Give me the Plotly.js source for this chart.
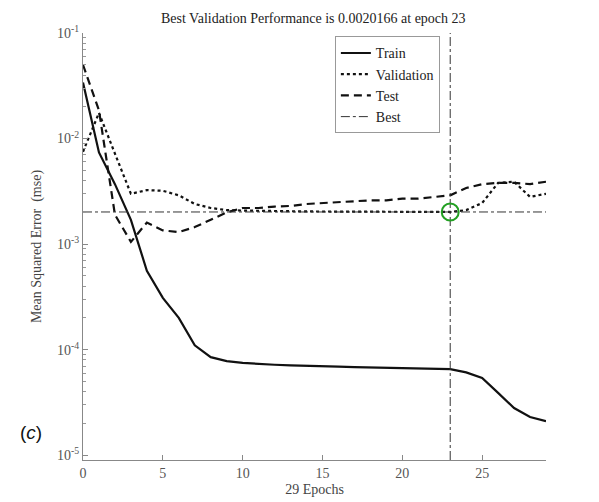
<!DOCTYPE html>
<html>
<head>
<meta charset="utf-8">
<script src="https://cdn.plot.ly/plotly-3.0.1.min.js"></script>
<style>html,body{margin:0;padding:0;background:#fff;}#chart{width:599px;height:502px;}</style>
</head>
<body>
<div id="chart"></div>
<script>
const epochs = [0,1,2,3,4,5,6,7,8,9,10,11,12,13,14,15,16,17,18,19,20,21,22,23,24,25,26,27,28,29];
const train = [0.034,0.0074,0.0037,0.0017,0.00056,0.00031,0.0002,0.00011,0.000085,0.000078,0.000075,0.000073,0.000072,0.000071,0.00007,0.0000695,0.000069,0.0000685,0.000068,0.0000675,0.000067,0.0000665,0.000066,0.0000655,0.000061,0.000054,0.000039,0.000028,0.000023,0.000021];
const validation = [0.0075,0.0175,0.0072,0.0030,0.00325,0.0032,0.0029,0.0024,0.0022,0.0021,0.00208,0.00206,0.00205,0.00205,0.00204,0.00204,0.00204,0.00203,0.00203,0.00203,0.00203,0.00202,0.00202,0.0020166,0.0021,0.00245,0.0038,0.0039,0.0028,0.0030];
const test = [0.050,0.0185,0.0019,0.00105,0.0016,0.00135,0.0013,0.00145,0.0017,0.0020,0.0022,0.0022,0.00227,0.0023,0.0024,0.00245,0.0025,0.00255,0.0026,0.0026,0.0027,0.0027,0.0028,0.0029,0.0034,0.0037,0.0038,0.0038,0.0037,0.0039];
const bestEpoch = 23;
const bestPerf = 0.0020166;
const yTickVals = [1e-5,1e-4,1e-3,1e-2,1e-1];
const yTickText = ['10<sup>-5</sup>','10<sup>-4</sup>','10<sup>-3</sup>','10<sup>-2</sup>','10<sup>-1</sup>'];
const xTickVals = [0,5,10,15,20,25];

const yLogRange = [-5.045, -1];
const yMin = Math.pow(10, yLogRange[0]), yMax = Math.pow(10, yLogRange[1]);
const serif = 'Liberation Serif, Times New Roman, serif';

const traces = [
  {x: epochs, y: train, name: 'Train', mode: 'lines', line: {color: '#111', width: 2.2, dash: 'solid'}},
  {x: epochs, y: validation, name: 'Validation', mode: 'lines', line: {color: '#111', width: 2.2, dash: 'dot'}},
  {x: epochs, y: test, name: 'Test', mode: 'lines', line: {color: '#111', width: 2.2, dash: '8px,5px'}},
  {x: [epochs[0], epochs[epochs.length-1], null, bestEpoch, bestEpoch], y: [bestPerf, bestPerf, null, yMin, yMax],
   name: 'Best', mode: 'lines', connectgaps: false, line: {color: '#333', width: 1, dash: 'dashdot'}},
  {x: [bestEpoch], y: [bestPerf], mode: 'markers', showlegend: false, hoverinfo: 'skip',
   marker: {symbol: 'circle-open', size: 17, color: '#22a022', line: {width: 2, color: '#22a022'}}}
];

const layout = {
  width: 599, height: 502,
  margin: {l: 83, r: 53, t: 33, b: 42},
  paper_bgcolor: '#fff', plot_bgcolor: '#fff',
  showlegend: true,
  title: {text: 'Best Validation Performance is 0.0020166 at epoch 23', font: {family: serif, size: 14, color: '#222'}, x: 0.523, xanchor: 'center', y: 0.963, yanchor: 'middle'},
  xaxis: {
    range: [0, 29], showgrid: false, zeroline: false, showline: true, linecolor: '#888', linewidth: 1,
    ticks: 'inside', ticklen: 5, tickcolor: '#888', tickmode: 'array', tickvals: xTickVals,
    tickfont: {family: serif, size: 14, color: '#555'}, mirror: false,
    title: {text: '29 Epochs', font: {family: serif, size: 14, color: '#444'}, standoff: 4}
  },
  yaxis: {
    type: 'log', range: yLogRange, showgrid: false, zeroline: false, showline: true, linecolor: '#888', linewidth: 1,
    ticks: 'inside', ticklen: 5, tickcolor: '#888', tickmode: 'array', tickvals: yTickVals, ticktext: yTickText,
    tickfont: {family: serif, size: 14, color: '#555'}, mirror: false,
    minor: {ticks: 'inside', ticklen: 3, tickcolor: '#999', dtick: 'D1', showgrid: false},
    title: {text: 'Mean Squared Error  (mse)', font: {family: serif, size: 14, color: '#444'}, standoff: 12}
  },
  legend: {
    x: 0.544, y: 0.992, xanchor: 'left', yanchor: 'top', bgcolor: '#fff', bordercolor: '#999', borderwidth: 1,
    font: {family: serif, size: 14, color: '#222'}, tracegroupgap: 0, itemwidth: 30
  },
  annotations: [
    {text: '(<i>c</i>)', xref: 'paper', yref: 'paper', x: (31-83)/463, y: (460-432)/427, xanchor: 'center', yanchor: 'middle',
     showarrow: false, font: {family: 'Liberation Sans, Arial, sans-serif', size: 19, color: '#111'}}
  ]
};

Plotly.newPlot('chart', traces, layout, {displayModeBar: false, staticPlot: true});
</script>
</body>
</html>
